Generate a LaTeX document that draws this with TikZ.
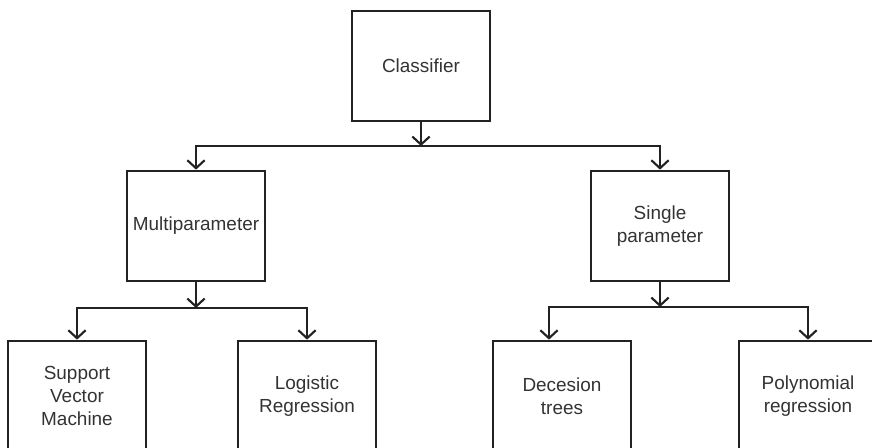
\documentclass[tikz,border=0pt]{standalone}
\usepackage{fontspec}
\setmainfont{Liberation Sans}
\usetikzlibrary{arrows.meta}

\definecolor{boxline}{HTML}{222222}
\definecolor{boxtext}{HTML}{333333}

\tikzset{
  box/.style={draw=boxline, line width=2pt, fill=white, text=boxtext,
    minimum width=103.5pt, minimum height=82.5pt, align=center,
    font=\fontsize{14.2}{17.5}\selectfont},
  arr/.style={draw=boxline, line width=2pt,
    -{Straight Barb[length=6pt,width=13pt,line width=1.6pt]}},
  bus/.style={draw=boxline, line width=2pt}
}

\begin{document}
\begin{tikzpicture}[x=0.75pt, y=-0.75pt]
\useasboundingbox (0,0) rectangle (872,448);
\clip (0,0) rectangle (872,448);

% top level
\node[box] (cls) at (421,66) {Classifier};
\coordinate (top) at (421,146);

% second level
\node[box] (multi) at (196,226) {Multiparameter};
\node[box] (single) at (660,226) {Single\\parameter};
\coordinate (lbus) at (196,308);
\coordinate (rbus) at (660,307);

% leaves
\node[box] (svm) at (77,396) {Support\\Vector\\Machine};
\node[box] (logit) at (307,396) {Logistic\\Regression};
\node[box] (dtree) at (562,396) {Decesion\\trees};
\node[box] (poly) at (808,396) {Polynomial\\regression};

\draw[arr] (cls) -- (top);
\draw[arr] (top) -| (multi);
\draw[arr] (top) -| (single);

\draw[arr] (multi) -- (lbus);
\draw[arr] (lbus) -| (svm);
\draw[arr] (lbus) -| (logit);

\draw[arr] (single) -- (rbus);
\draw[arr] (rbus) -| ([xshift=-9.75pt]dtree.north);
\draw[arr] (rbus) -| (poly);
\end{tikzpicture}
\end{document}
